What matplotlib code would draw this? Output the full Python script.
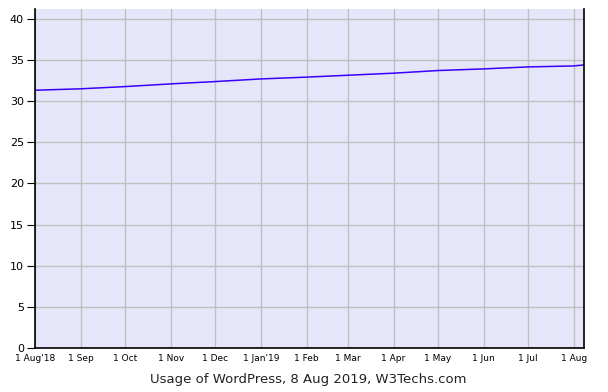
import matplotlib
matplotlib.use("Agg")
import matplotlib.pyplot as plt
import matplotlib.dates as mdates
from datetime import date

# WordPress usage share (%)
dates = [date(2018, 8, 1), date(2018, 9, 1), date(2018, 10, 1), date(2018, 11, 1),
         date(2018, 12, 1), date(2019, 1, 1), date(2019, 2, 1), date(2019, 3, 1),
         date(2019, 4, 1), date(2019, 5, 1), date(2019, 6, 1), date(2019, 7, 1),
         date(2019, 8, 1), date(2019, 8, 8)]
usage = [31.33, 31.5, 31.77, 32.1, 32.38, 32.7, 32.92, 33.15,
         33.4, 33.72, 33.92, 34.16, 34.28, 34.4]

tick_dates = [date(2018, m, 1) for m in range(8, 13)] + [date(2019, m, 1) for m in range(1, 9)]
tick_labels = ["1 Aug'18", "1 Sep", "1 Oct", "1 Nov", "1 Dec", "1 Jan'19", "1 Feb",
               "1 Mar", "1 Apr", "1 May", "1 Jun", "1 Jul", "1 Aug"]
y_ticks = [0, 5, 10, 15, 20, 25, 30, 35, 40]

fig = plt.figure(figsize=(6.08, 3.92), dpi=100)
ax = fig.add_axes([35 / 608, 44 / 392, 549 / 608, 339 / 392])
ax.set_facecolor("#e6e6fa")

ax.plot(dates, usage, color="#3a00ff", lw=1.1)

ax.set_xlim(date(2018, 8, 1), date(2019, 8, 8))
ax.set_ylim(0, 41.2)

ax.set_xticks(tick_dates)
ax.set_xticklabels(tick_labels, fontsize=6.5)
ax.set_yticks(y_ticks)
ax.tick_params(axis="y", labelsize=8, length=6, direction="out", pad=2)
ax.tick_params(axis="x", length=0, pad=4)

ax.grid(True, color="#c0c0c0", lw=1)
ax.set_axisbelow(True)

ax.spines["top"].set_visible(False)
for s in ["left", "bottom", "right"]:
    ax.spines[s].set_color("black")
    ax.spines[s].set_linewidth(1.2)

fig.text(308 / 608, 1 - 380 / 392, "Usage of WordPress, 8 Aug 2019, W3Techs.com",
         ha="center", va="center", fontsize=9.5, color="#222222")

fig.savefig("out.png", dpi=100)
